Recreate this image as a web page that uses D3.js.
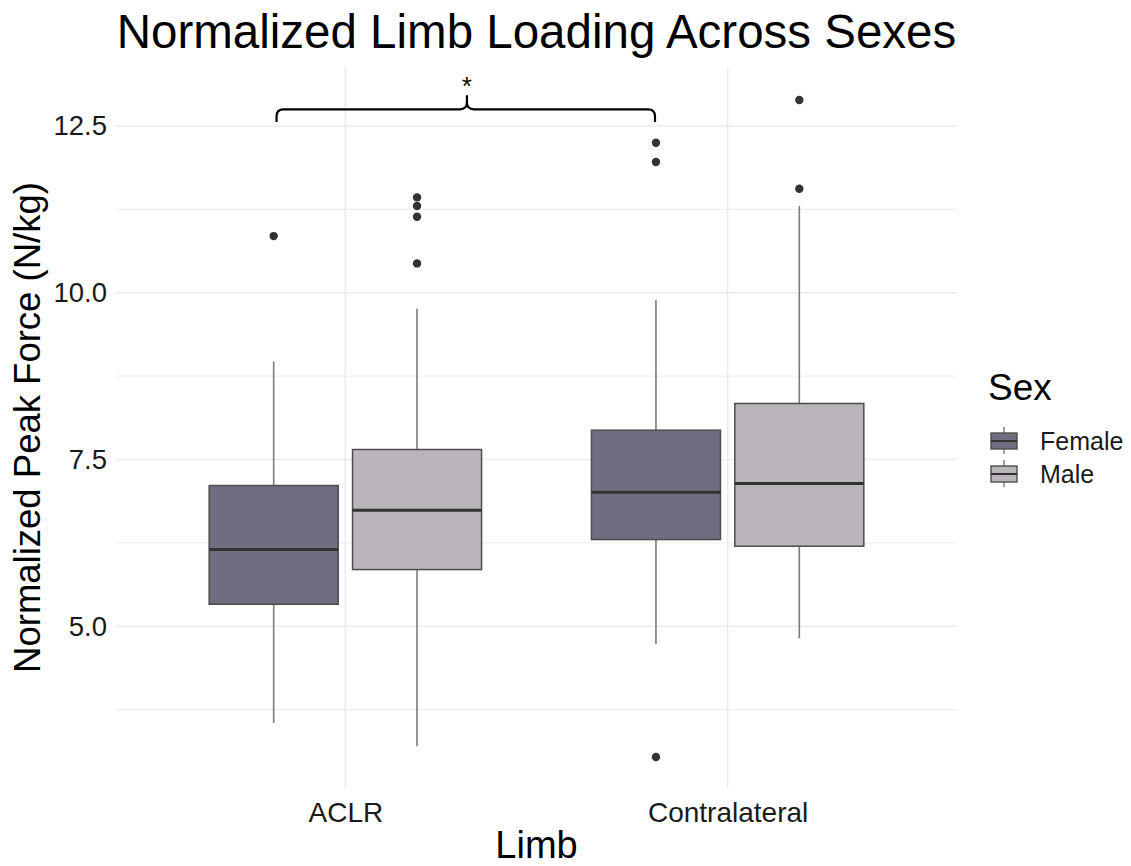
<!DOCTYPE html>
<html>
<head>
<meta charset="utf-8">
<script src="https://cdn.jsdelivr.net/npm/d3@7"></script>
<style>
  html, body { margin: 0; padding: 0; background: #fff; }
  svg { display: block; font-family: "Liberation Sans", Arial, sans-serif; }
</style>
</head>
<body>
<svg id="chart" width="1131" height="866"></svg>
<script>
// ---- Data ----
const limbs = ["ACLR", "Contralateral"];
const sexes = ["Female", "Male"];
const sexColors = ["#6e6e80", "#b9b5ba"];
// indexed [limb][sex]
const lowerWhisker = [[3.55, 3.20], [4.73, 4.82]];
const q1 = [[5.33, 5.85], [6.30, 6.20]];
const median = [[6.15, 6.74], [7.01, 7.14]];
const q3 = [[7.11, 7.65], [7.94, 8.34]];
const upperWhisker = [[8.97, 9.76], [9.89, 11.30]];
const outliers = [
  [[10.85], [11.43, 11.30, 11.14, 10.44]],
  [[12.25, 11.96, 3.04], [12.89, 11.56]]
];
const yTicks = [5.0, 7.5, 10.0, 12.5];
const yMinorTicks = [3.75, 6.25, 8.75, 11.25];
const bracketX = [0.82, 1.318, 1.81];       // left, middle, right (limb units)
const bracketY = [12.56, 12.75, 12.96];     // ends, line, peak
const starY = 13.22;

// ---- Layout ----
const svg = d3.select("#chart");
const panel = { left: 116, right: 957, top: 67, bottom: 788 };

const x = d3.scaleLinear().domain([0.4, 2.6]).range([panel.left, panel.right]);
const y = d3.scaleLinear().domain([2.575, 13.385]).range([panel.bottom, panel.top]);
const dodge = 0.75;           // total dodge width
const boxFrac = 0.9;          // dodge2 padding 0.1
const subW = dodge / sexes.length;

// grid
const grid = svg.append("g");
grid.selectAll(".ymin").data(yMinorTicks).join("line")
  .attr("x1", panel.left).attr("x2", panel.right)
  .attr("y1", d => y(d)).attr("y2", d => y(d))
  .attr("stroke", "#efefef").attr("stroke-width", 1.2);
grid.selectAll(".ymaj").data(yTicks).join("line")
  .attr("x1", panel.left).attr("x2", panel.right)
  .attr("y1", d => y(d)).attr("y2", d => y(d))
  .attr("stroke", "#ebebeb").attr("stroke-width", 1.6);
grid.selectAll(".xmaj").data(limbs).join("line")
  .attr("x1", (d, i) => x(i + 1)).attr("x2", (d, i) => x(i + 1))
  .attr("y1", panel.top).attr("y2", panel.bottom)
  .attr("stroke", "#ebebeb").attr("stroke-width", 1.6);

// axes (text only, like theme_minimal)
const yAxis = d3.axisLeft(y).tickValues(yTicks).tickFormat(d3.format(".1f")).tickSize(0).tickPadding(9);
const gy = svg.append("g").attr("transform", `translate(${panel.left},0)`).call(yAxis);
gy.select(".domain").remove();
gy.selectAll("text").attr("font-size", 27.5).attr("fill", "#1a1a1a")
  .attr("font-family", "Liberation Sans, Arial, sans-serif");

const xAxis = d3.axisBottom(x).tickValues([1, 2]).tickFormat((d) => limbs[d - 1]).tickSize(0).tickPadding(14);
const gx = svg.append("g").attr("transform", `translate(0,${panel.bottom})`).call(xAxis);
gx.select(".domain").remove();
gx.selectAll("text").attr("font-size", 28).attr("fill", "#1a1a1a")
  .attr("font-family", "Liberation Sans, Arial, sans-serif");

// boxes
const boxes = [];
limbs.forEach((l, li) => sexes.forEach((s, si) => {
  const center = (li + 1) - dodge / 2 + subW * (si + 0.5);
  boxes.push({ li, si, center });
}));
const bg = svg.append("g");
boxes.forEach(b => {
  const { li, si, center } = b;
  const half = subW * boxFrac / 2;
  const g = bg.append("g");
  // whiskers
  g.append("line")
    .attr("x1", x(center)).attr("x2", x(center))
    .attr("y1", y(q3[li][si])).attr("y2", y(upperWhisker[li][si]))
    .attr("stroke", "#7a7a7a").attr("stroke-width", 1.6);
  g.append("line")
    .attr("x1", x(center)).attr("x2", x(center))
    .attr("y1", y(q1[li][si])).attr("y2", y(lowerWhisker[li][si]))
    .attr("stroke", "#7a7a7a").attr("stroke-width", 1.6);
  // box
  g.append("rect")
    .attr("x", x(center - half)).attr("width", x(center + half) - x(center - half))
    .attr("y", y(q3[li][si])).attr("height", y(q1[li][si]) - y(q3[li][si]))
    .attr("fill", sexColors[si]).attr("stroke", "#4d4d4d").attr("stroke-width", 1.5);
  // median
  g.append("line")
    .attr("x1", x(center - half)).attr("x2", x(center + half))
    .attr("y1", y(median[li][si])).attr("y2", y(median[li][si]))
    .attr("stroke", "#333333").attr("stroke-width", 3);
  // outliers
  g.selectAll("circle").data(outliers[li][si]).join("circle")
    .attr("cx", x(center)).attr("cy", d => y(d)).attr("r", 4.2)
    .attr("fill", "#333333");
});

// significance bracket
const r = 7;
const xl = x(bracketX[0]), xm = x(bracketX[1]), xr = x(bracketX[2]);
const ye = y(bracketY[0]), yl = y(bracketY[1]), yp = y(bracketY[2]);
const p = d3.path();
p.moveTo(xl, ye);
p.lineTo(xl, yl + r);
p.quadraticCurveTo(xl, yl, xl + r, yl);
p.lineTo(xm - r, yl);
p.quadraticCurveTo(xm, yl, xm, yl - r);
p.lineTo(xm, yp);
p.moveTo(xm, yl - r);
p.quadraticCurveTo(xm, yl, xm + r, yl);
p.lineTo(xr - r, yl);
p.quadraticCurveTo(xr, yl, xr, yl + r);
p.lineTo(xr, ye);
svg.append("path").attr("d", p.toString()).attr("fill", "none")
  .attr("stroke", "#000").attr("stroke-width", 2.2);
svg.append("text").attr("x", xm).attr("y", y(starY)).attr("text-anchor", "middle")
  .attr("dominant-baseline", "central").attr("font-size", 26).attr("dy", "0.3em").text("*");

// titles
svg.append("text").attr("x", (panel.left + panel.right) / 2).attr("y", 48)
  .attr("text-anchor", "middle").attr("font-size", 47.5).attr("fill", "#000")
  .text("Normalized Limb Loading Across Sexes");
svg.append("text").attr("x", (panel.left + panel.right) / 2).attr("y", 858)
  .attr("text-anchor", "middle").attr("font-size", 38).attr("fill", "#000")
  .text("Limb");
svg.append("text")
  .attr("transform", `translate(40,${(panel.top + panel.bottom) / 2}) rotate(-90)`)
  .attr("text-anchor", "middle").attr("font-size", 36.5).attr("fill", "#000")
  .text("Normalized Peak Force (N/kg)");

// legend
const lg = svg.append("g");
lg.append("text").attr("x", 988).attr("y", 400).attr("font-size", 37).text("Sex");
sexes.forEach((s, i) => {
  const cy = 441 + i * 33;
  const k = lg.append("g");
  k.append("line").attr("x1", 1004).attr("x2", 1004).attr("y1", cy - 14).attr("y2", cy + 13)
    .attr("stroke", "#7a7a7a").attr("stroke-width", 1.4);
  k.append("rect").attr("x", 991).attr("y", cy - 8).attr("width", 26).attr("height", 16)
    .attr("fill", sexColors[i]).attr("stroke", "#4d4d4d").attr("stroke-width", 1.4);
  k.append("line").attr("x1", 991).attr("x2", 1017).attr("y1", cy).attr("y2", cy)
    .attr("stroke", "#333").attr("stroke-width", 2);
  lg.append("text").attr("x", 1040).attr("y", cy).attr("dy", "0.36em")
    .attr("font-size", 25).attr("fill", "#1a1a1a").text(s);
});
</script>
</body>
</html>
